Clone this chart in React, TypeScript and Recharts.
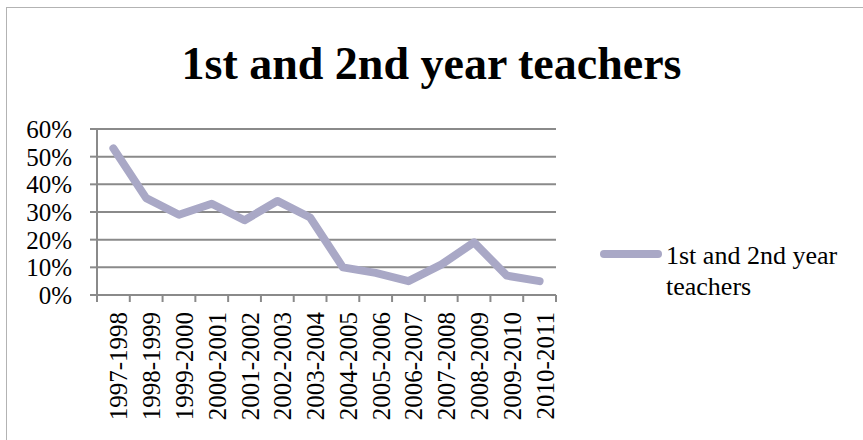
import { LineChart, Line, XAxis, YAxis, CartesianGrid, Legend } from 'recharts';

const seasons = [
  '1997-1998', '1998-1999', '1999-2000', '2000-2001', '2001-2002', '2002-2003', '2003-2004',
  '2004-2005', '2005-2006', '2006-2007', '2007-2008', '2008-2009', '2009-2010', '2010-2011',
];
const shares = [0.53, 0.35, 0.29, 0.33, 0.27, 0.34, 0.28, 0.1, 0.08, 0.05, 0.11, 0.19, 0.07, 0.05];
const yTicks = [0, 0.1, 0.2, 0.3, 0.4, 0.5, 0.6];
const seriesName = '1st and 2nd year teachers';
const title = '1st and 2nd year teachers';

const data = seasons.map((season, i) => ({ season, share: shares[i] }));
// boundaries between categories, for Excel-style tick marks
const edgeTicks = Array.from({ length: seasons.length + 1 }, (_, i) => i);

const FONT = '"Liberation Serif", "Times New Roman", serif';
const GRID = '#8a8a8a';
const LINE = '#a9a8c6';

function SeasonTick({ x, y, payload }: any) {
  const top = y + 17;
  return (
    <text
      x={x}
      y={top}
      dy={14}
      transform={`rotate(-90, ${x}, ${top})`}
      textAnchor="end"
      fontFamily={FONT}
      fontSize={25}
      fill="#000"
    >
      {payload.value}
    </text>
  );
}

function LegendBox({ payload }: any) {
  return (
    <div style={{ display: 'flex', alignItems: 'flex-start', fontFamily: FONT }}>
      {(payload || []).map((p: any) => (
        <div key={p.value} style={{ display: 'flex', alignItems: 'flex-start' }}>
          <svg width={64} height={20} style={{ marginTop: 4, flex: 'none' }}>
            <line x1={6} y1={10} x2={60} y2={10} stroke={p.color} strokeWidth={8} strokeLinecap="round" />
          </svg>
          <div style={{ width: 185, marginLeft: 4, fontSize: 26, lineHeight: '31px', color: '#000', fontFamily: FONT }}>
            {p.value}
          </div>
        </div>
      ))}
    </div>
  );
}

export default function App() {
  return (
    <div style={{ position: 'fixed', left: 0, top: 0, width: 863, height: 440, overflow: 'hidden', background: '#fff' }}>
      <div
        style={{
          position: 'absolute',
          left: 6,
          top: 7,
          width: 900,
          height: 500,
          border: '1px solid #b3b3b3',
        }}
      />
      <div
        style={{
          position: 'absolute',
          left: 0,
          top: 41,
          width: 863,
          textAlign: 'center',
          fontFamily: FONT,
          fontWeight: 'bold',
          fontSize: 46,
          lineHeight: '46px',
          color: '#000',
        }}
      >
        {title}
      </div>
      <div style={{ position: 'absolute', left: 0, top: 0 }}>
        <LineChart width={863} height={440} data={data} margin={{ top: 129, right: 307, left: 0, bottom: 0 }}>
          <CartesianGrid vertical={false} stroke={GRID} strokeWidth={2} />
          <XAxis
            dataKey="season"
            scale="band"
            interval={0}
            axisLine={false}
            tickLine={false}
            tickSize={0}
            tickMargin={0}
            height={145}
            tick={<SeasonTick />}
          />
          <XAxis
            xAxisId="edge"
            dataKey="share"
            type="number"
            mirror
            domain={[0, seasons.length]}
            allowDataOverflow
            ticks={edgeTicks}
            interval={0}
            tick={() => <g />}
            tickSize={-7}
            height={10}
            stroke={GRID}
            strokeWidth={2}
          />
          <YAxis
            width={97}
            domain={[0, 0.6]}
            ticks={yTicks}
            interval={0}
            tickFormatter={(v: number) => `${Math.round(v * 100)}%`}
            tickSize={7}
            tickMargin={18}
            stroke={GRID}
            strokeWidth={2}
            tick={{ fill: '#000', fontSize: 25, fontFamily: FONT }}
          />
          <Legend
            layout="vertical"
            align="center"
            verticalAlign="middle"
            content={<LegendBox />}
            wrapperStyle={{ left: 598, top: 240, width: 260 }}
          />
          <Line
            name={seriesName}
            dataKey="share"
            stroke={LINE}
            strokeWidth={8}
            strokeLinecap="round"
            strokeLinejoin="round"
            dot={false}
            activeDot={false}
            isAnimationActive={false}
          />
        </LineChart>
      </div>
    </div>
  );
}
